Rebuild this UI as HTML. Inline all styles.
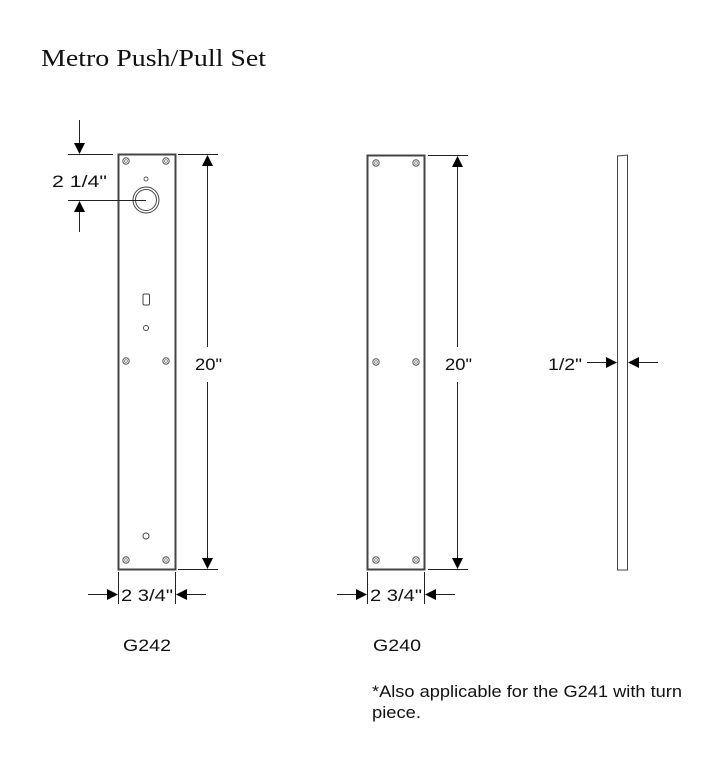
<!DOCTYPE html>
<html><head><meta charset="utf-8"><style>
html,body{margin:0;padding:0;background:#fff;width:711px;height:759px;overflow:hidden}
svg{display:block}
.t{font-family:"Liberation Sans",sans-serif;font-size:17px;fill:#111}
</style></head><body>
<svg width="711" height="759" viewBox="0 0 711 759" xmlns="http://www.w3.org/2000/svg">
<defs>
<g id="scr"><circle r="3.2" fill="none" stroke="#555" stroke-width="1"/><circle r="1.4" fill="none" stroke="#777" stroke-width="0.8"/></g>
</defs>
<text x="41" y="66" textLength="225" lengthAdjust="spacingAndGlyphs" style="font-family:'Liberation Serif',serif;font-size:24px;fill:#111">Metro Push/Pull Set</text>

<!-- G242 plate -->
<rect x="118.5" y="154.5" width="57" height="415" fill="none" stroke="#444" stroke-width="2"/>
<use href="#scr" x="126" y="161"/><use href="#scr" x="166" y="161"/>
<use href="#scr" x="126" y="361"/><use href="#scr" x="166" y="361"/>
<use href="#scr" x="126" y="560"/><use href="#scr" x="166" y="560"/>
<circle cx="146" cy="179" r="2" fill="none" stroke="#555" stroke-width="0.9"/>
<circle cx="146" cy="200" r="13" fill="none" stroke="#444" stroke-width="1"/>
<circle cx="146" cy="200" r="10.5" fill="none" stroke="#444" stroke-width="1"/>
<rect x="143" y="294" width="6.5" height="11" rx="1.5" fill="none" stroke="#444" stroke-width="1"/>
<circle cx="146" cy="328" r="2.5" fill="none" stroke="#444" stroke-width="1"/>
<circle cx="146" cy="536" r="3" fill="none" stroke="#444" stroke-width="1"/>

<!-- 2 1/4 dim -->
<g stroke="#222" stroke-width="1">
<line x1="68" y1="154.5" x2="113" y2="154.5"/>
<line x1="68" y1="200.5" x2="146" y2="200.5"/>
<line x1="79.5" y1="120" x2="79.5" y2="146"/>
<line x1="79.5" y1="208" x2="79.5" y2="232"/>
</g>
<polygon points="74,143 85,143 79.5,154" fill="#000"/>
<polygon points="74,212 85,212 79.5,201" fill="#000"/>
<text x="52" y="187" class="t" textLength="55" lengthAdjust="spacingAndGlyphs">2 1/4"</text>

<!-- 20 dim G242 -->
<g stroke="#222" stroke-width="1">
<line x1="178" y1="154.5" x2="218" y2="154.5"/>
<line x1="178" y1="569.5" x2="218" y2="569.5"/>
<line x1="207.5" y1="165" x2="207.5" y2="347"/>
<line x1="207.5" y1="382" x2="207.5" y2="558"/>
</g>
<polygon points="202,166 213,166 207.5,155" fill="#000"/>
<polygon points="202,558 213,558 207.5,569" fill="#000"/>
<text x="195" y="370" class="t" textLength="27" lengthAdjust="spacingAndGlyphs">20"</text>

<!-- 2 3/4 dim G242 -->
<g stroke="#222" stroke-width="1">
<line x1="118.5" y1="572" x2="118.5" y2="604"/>
<line x1="175.5" y1="572" x2="175.5" y2="604"/>
<line x1="88" y1="594.5" x2="108" y2="594.5"/>
<line x1="186" y1="594.5" x2="206" y2="594.5"/>
</g>
<polygon points="107,589 107,600 118,594.5" fill="#000"/>
<polygon points="187,589 187,600 176,594.5" fill="#000"/>
<text x="121" y="601" class="t" textLength="52" lengthAdjust="spacingAndGlyphs">2 3/4"</text>
<text x="123" y="651" class="t" textLength="48" lengthAdjust="spacingAndGlyphs">G242</text>

<!-- G240 plate -->
<rect x="367.5" y="155.5" width="57" height="414" fill="none" stroke="#444" stroke-width="2"/>
<use href="#scr" x="376" y="163"/><use href="#scr" x="416" y="163"/>
<use href="#scr" x="376" y="362"/><use href="#scr" x="416" y="362"/>
<use href="#scr" x="376" y="560"/><use href="#scr" x="416" y="560"/>
<g stroke="#222" stroke-width="1">
<line x1="428" y1="155.5" x2="468" y2="155.5"/>
<line x1="428" y1="569.5" x2="468" y2="569.5"/>
<line x1="457.5" y1="166" x2="457.5" y2="347"/>
<line x1="457.5" y1="382" x2="457.5" y2="558"/>
<line x1="367.5" y1="572" x2="367.5" y2="604"/>
<line x1="424.5" y1="572" x2="424.5" y2="604"/>
<line x1="337" y1="594.5" x2="357" y2="594.5"/>
<line x1="435" y1="594.5" x2="455" y2="594.5"/>
</g>
<polygon points="452,167 463,167 457.5,156" fill="#000"/>
<polygon points="452,558 463,558 457.5,569" fill="#000"/>
<text x="445" y="370" class="t" textLength="27" lengthAdjust="spacingAndGlyphs">20"</text>
<polygon points="356,589 356,600 367,594.5" fill="#000"/>
<polygon points="436,589 436,600 425,594.5" fill="#000"/>
<text x="370" y="601" class="t" textLength="52" lengthAdjust="spacingAndGlyphs">2 3/4"</text>
<text x="373" y="651" class="t" textLength="48" lengthAdjust="spacingAndGlyphs">G240</text>

<!-- side profile -->
<path d="M617.5,570 L617.5,156 L627.5,155 L627.5,570 Z" fill="none" stroke="#444" stroke-width="1"/>
<g stroke="#222" stroke-width="1">
<line x1="587" y1="362.5" x2="606" y2="362.5"/>
<line x1="638" y1="362.5" x2="658" y2="362.5"/>
</g>
<polygon points="606,357 606,368 617,362.5" fill="#000"/>
<polygon points="639,357 639,368 628,362.5" fill="#000"/>
<text x="548" y="370" class="t" textLength="34" lengthAdjust="spacingAndGlyphs">1/2"</text>

<text x="372" y="697" class="t" textLength="310" lengthAdjust="spacingAndGlyphs">*Also applicable for the G241 with turn</text>
<text x="372" y="718" class="t" textLength="49" lengthAdjust="spacingAndGlyphs">piece.</text>
</svg>
</body></html>
